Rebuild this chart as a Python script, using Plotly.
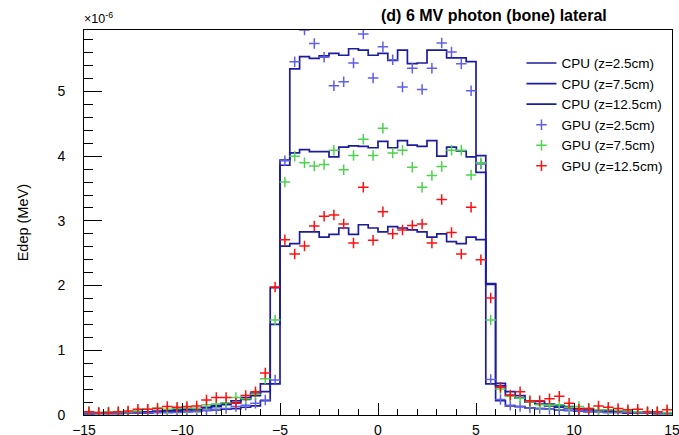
import numpy as np
import plotly.graph_objects as go

# lateral profile, 60 bins of 0.5 cm from -15 to 15; Edep in units of 1e-6 MeV
bin_edges = np.arange(-15.0, 15.0001, 0.5)
bin_centers = bin_edges[:-1] + 0.25

cpu_z2_5 = [0.02, 0.02, 0.02, 0.02, 0.03, 0.03, 0.03, 0.04, 0.04, 0.05,
            0.05, 0.06, 0.07, 0.08, 0.09, 0.10, 0.12, 0.14, 0.22, 0.48,
            3.94, 5.35, 5.54, 5.51, 5.55, 5.59, 5.56, 5.66, 5.64, 5.56,
            5.59, 5.48, 5.64, 5.43, 5.44, 5.64, 5.64, 5.52, 5.52, 5.46,
            4.01, 0.48, 0.22, 0.14, 0.13, 0.11, 0.10, 0.09, 0.08, 0.07,
            0.06, 0.05, 0.05, 0.04, 0.04, 0.03, 0.03, 0.03, 0.02, 0.02]
cpu_z7_5 = [0.02, 0.03, 0.03, 0.03, 0.04, 0.04, 0.05, 0.05, 0.06, 0.07,
            0.08, 0.09, 0.11, 0.13, 0.16, 0.19, 0.24, 0.30, 0.36, 1.40,
            3.86, 4.05, 4.10, 4.07, 4.07, 3.99, 4.14, 4.16, 4.15, 4.13,
            4.23, 4.13, 4.24, 4.17, 4.15, 4.24, 4.00, 4.14, 4.08, 3.99,
            3.75, 2.02, 0.45, 0.30, 0.26, 0.20, 0.17, 0.14, 0.12, 0.11,
            0.09, 0.08, 0.07, 0.06, 0.05, 0.05, 0.04, 0.04, 0.03, 0.03]
cpu_z12_5 = [0.03, 0.03, 0.03, 0.04, 0.04, 0.05, 0.05, 0.06, 0.07, 0.08,
             0.09, 0.10, 0.12, 0.15, 0.18, 0.22, 0.27, 0.34, 0.48, 1.97,
             2.61, 2.65, 2.83, 2.83, 2.75, 2.79, 2.89, 2.79, 2.94, 2.89,
             2.83, 2.91, 2.89, 2.86, 2.83, 2.75, 2.80, 2.68, 2.65, 2.75,
             2.71, 2.03, 0.49, 0.36, 0.30, 0.21, 0.21, 0.17, 0.14, 0.13,
             0.10, 0.09, 0.08, 0.07, 0.06, 0.05, 0.05, 0.04, 0.04, 0.03]

gpu_z2_5 = [0.03, 0.03, 0.03, 0.03, 0.03, 0.03, 0.03, 0.04, 0.04, 0.04,
            0.05, 0.05, 0.07, 0.09, 0.10, 0.13, 0.15, 0.18, 0.23, 0.54,
            3.93, 5.46, 5.95, 5.74, 5.53, 5.09, 5.15, 5.44, 5.89, 5.21,
            5.69, 5.49, 5.07, 5.36, 5.03, 5.36, 5.75, 5.61, 5.43, 5.01,
            3.88, 0.55, 0.24, 0.15, 0.13, 0.11, 0.10, 0.09, 0.08, 0.07,
            0.06, 0.05, 0.05, 0.04, 0.04, 0.04, 0.03, 0.03, 0.03, 0.03]
gpu_z7_5 = [0.05, 0.04, 0.05, 0.05, 0.05, 0.06, 0.09, 0.11, 0.09, 0.10,
            0.11, 0.10, 0.16, 0.17, 0.19, 0.27, 0.25, 0.32, 0.56, 1.47,
            3.60, 4.00, 3.90, 3.85, 3.87, 4.09, 3.79, 4.01, 4.26, 4.01,
            4.43, 4.05, 4.09, 3.83, 3.52, 3.70, 3.84, 4.09, 4.09, 3.71,
            3.90, 1.47, 0.40, 0.29, 0.26, 0.20, 0.16, 0.15, 0.16, 0.12,
            0.13, 0.10, 0.08, 0.08, 0.07, 0.06, 0.05, 0.05, 0.05, 0.04]
gpu_z12_5 = [0.05, 0.04, 0.04, 0.05, 0.06, 0.09, 0.09, 0.10, 0.13, 0.12,
             0.13, 0.14, 0.23, 0.27, 0.27, 0.18, 0.30, 0.36, 0.65, 1.98,
             2.71, 2.49, 2.61, 2.92, 3.07, 3.09, 2.95, 2.66, 3.52, 2.70,
             3.14, 2.80, 2.86, 2.93, 2.95, 2.66, 3.33, 2.82, 2.49, 3.21,
             2.40, 1.81, 0.43, 0.31, 0.36, 0.22, 0.22, 0.25, 0.29, 0.18,
             0.09, 0.10, 0.14, 0.12, 0.10, 0.08, 0.09, 0.05, 0.05, 0.08]

cpu_names = ["CPU (z=2.5cm)", "CPU (z=7.5cm)", "CPU (z=12.5cm)"]
gpu_names = ["GPU (z=2.5cm)", "GPU (z=7.5cm)", "GPU (z=12.5cm)"]
gpu_colors = ["#5f5fe8", "#4fd24f", "#ff1010"]

FONT = "Liberation Sans, Arial, Helvetica, sans-serif"

fig = go.Figure()

# CPU histograms drawn as steps
for name, vals in zip(cpu_names, [cpu_z2_5, cpu_z7_5, cpu_z12_5]):
    fig.add_trace(go.Scatter(
        x=bin_edges, y=list(vals) + [vals[-1]],
        mode="lines", line=dict(shape="hv", color="#1c1c9c", width=1.7),
        name=name
    ))

# GPU points at bin centres
for name, vals, col in zip(gpu_names, [gpu_z2_5, gpu_z7_5, gpu_z12_5], gpu_colors):
    fig.add_trace(go.Scatter(
        x=bin_centers, y=vals, mode="markers", name=name,
        marker=dict(symbol="cross-thin", size=7.5, line=dict(color=col, width=1.5))
    ))

axis_common = dict(
    showline=True, linecolor="black", linewidth=1, mirror=True,
    showgrid=False, zeroline=False, ticks="inside", tickcolor="black",
    tickfont=dict(family=FONT, size=14, color="black"),
)

fig.update_xaxes(
    range=[-15, 15], tickmode="linear", tick0=-15, dtick=5, ticklen=12.4,
    minor=dict(ticks="inside", dtick=1, ticklen=6.2, tickcolor="black"),
    ticklabelstandoff=2, **axis_common
)
fig.update_yaxes(
    range=[0, 5.95], tickmode="linear", tick0=0, dtick=1, ticklen=18.3,
    minor=dict(ticks="inside", dtick=0.2, ticklen=9.2, tickcolor="black"),
    ticklabelstandoff=15, **axis_common
)

fig.add_annotation(text="<b>(d) 6 MV photon (bone) lateral</b>", xref="paper", yref="paper",
                   x=0.697, y=1.038, xanchor="center", yanchor="middle", showarrow=False,
                   font=dict(family=FONT, size=16, color="black"))
fig.add_annotation(text="×10<sup>-6</sup>", xref="paper", yref="paper",
                   x=-0.003, y=1.004, xanchor="left", yanchor="bottom", showarrow=False,
                   font=dict(family=FONT, size=12.5, color="black"))
fig.add_annotation(text="Edep (MeV)", xref="paper", yref="paper", textangle=-90,
                   x=-0.104, y=0.5, xanchor="center", yanchor="middle", showarrow=False,
                   font=dict(family=FONT, size=14.5, color="black"))

fig.update_layout(
    width=691, height=449,
    margin=dict(l=84.4, r=11.4, t=30.4, b=25.9),
    paper_bgcolor="white", plot_bgcolor="white",
    font=dict(family=FONT, color="black"),
    legend=dict(x=0.744, y=0.954, xanchor="left", yanchor="top",
                bgcolor="rgba(255,255,255,0)", font=dict(family=FONT, size=13.5, color="black"),
                tracegroupgap=0, itemwidth=30),
    showlegend=True,
)

# drop the default page margin and scrollbars so the figure fills the window
page_js = ("document.documentElement.style.margin='0';"
           "document.documentElement.style.overflow='hidden';"
           "document.body.style.margin='0';"
           "document.body.style.overflow='hidden';")
fig.write_html("out.html", config={"displayModeBar": False}, post_script=page_js)
